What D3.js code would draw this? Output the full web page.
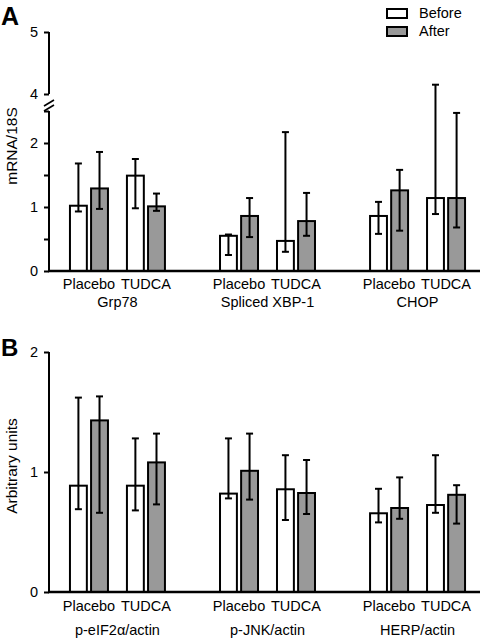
<!DOCTYPE html>
<html>
<head>
<meta charset="utf-8">
<script src="https://cdn.jsdelivr.net/npm/d3@7"></script>
<style>
  html, body { margin: 0; padding: 0; background: #fff; }
  svg { display: block; font-family: "Liberation Sans", Arial, sans-serif; }
</style>
</head>
<body>
<svg id="chart" width="480" height="640"></svg>
<script>
// ---------- data ----------
const treatments = ["Placebo", "TUDCA"];
const times = ["Before", "After"];

// Panel A (mRNA/18S); bar order: Placebo-Before, Placebo-After, TUDCA-Before, TUDCA-After
const groupsA = ["Grp78", "Spliced XBP-1", "CHOP"];
const meanA  = [[1.02, 1.29, 1.49, 1.01], [0.55, 0.86, 0.47, 0.78], [0.86, 1.26, 1.14, 1.14]];
const upperA = [[1.68, 1.86, 1.75, 1.21], [0.57, 1.14, 2.17, 1.22], [1.08, 1.58, 4.15, 2.47]];
const lowerA = [[0.93, 0.97, 0.98, 0.94], [0.25, 0.53, 0.30, 0.55], [0.58, 0.63, 0.89, 0.68]];
const ticksA = [0, 0.5, 1, 1.5, 2, 2.5, 4, 5];
const tickLabelsA = ["0", "", "1", "", "2", "", "4", "5"];

// Panel B (Arbitrary units)
const groupsB = ["p-eIF2α/actin", "p-JNK/actin", "HERP/actin"];
const meanB  = [[0.886, 1.43, 0.886, 1.08], [0.82, 1.01, 0.856, 0.825], [0.656, 0.70, 0.725, 0.81]];
const upperB = [[1.62, 1.63, 1.28, 1.32], [1.28, 1.32, 1.14, 1.10], [0.86, 0.955, 1.14, 0.89]];
const lowerB = [[0.69, 0.66, 0.68, 0.73], [0.78, 0.77, 0.60, 0.65], [0.58, 0.61, 0.66, 0.57]];
const ticksB = [0, 1, 2];
const tickLabelsB = ["0", "1", "2"];

const fills = { Before: "#ffffff", After: "#999999" };

// ---------- layout ----------
const svg = d3.select("#chart");
const axisX = 49, rightX = 480;

function buildRows(groups, mean, upper, lower) {
  const rows = [];
  groups.forEach((g, gi) => {
    treatments.forEach((t, ti) => {
      times.forEach((tm, mi) => {
        const k = ti * 2 + mi;
        rows.push({ group: g, treatment: t, time: tm, value: mean[gi][k], hi: upper[gi][k], lo: lower[gi][k] });
      });
    });
  });
  return rows;
}

function panel(opts) {
  const { groups, rows, y, tickVals, tickLabels, label1Y, label2Y, title, titleY, segments, breakAt } = opts;
  const g = svg.append("g");

  const x0 = d3.scaleBand().domain(groups).range([42.5, 492.5]).paddingInner(0.367).paddingOuter(0.183);
  const x1 = d3.scaleBand().domain(treatments).range([0, x0.bandwidth()]).paddingInner(0.333);
  const x2 = d3.scaleBand().domain(times).range([0, x1.bandwidth()]).paddingInner(0.2);
  const xPos = d => x0(d.group) + x1(d.treatment) + x2(d.time);

  // bars
  g.selectAll("rect.bar").data(rows).join("rect")
    .attr("class", "bar")
    .attr("x", d => xPos(d))
    .attr("width", x2.bandwidth())
    .attr("y", d => y(d.value))
    .attr("height", d => y(0) - y(d.value))
    .attr("fill", d => fills[d.time])
    .attr("stroke", "#000")
    .attr("stroke-width", 2);

  // error bars
  const eb = g.selectAll("g.err").data(rows).join("g").attr("class", "err")
    .attr("stroke", "#000").attr("stroke-width", 2);
  eb.append("line")
    .attr("x1", d => xPos(d) + x2.bandwidth() / 2).attr("x2", d => xPos(d) + x2.bandwidth() / 2)
    .attr("y1", d => y(d.lo)).attr("y2", d => y(d.hi));
  [ "hi", "lo" ].forEach(key => {
    eb.append("line")
      .attr("x1", d => xPos(d) + x2.bandwidth() / 2 - 3.5).attr("x2", d => xPos(d) + x2.bandwidth() / 2 + 3.5)
      .attr("y1", d => y(d[key])).attr("y2", d => y(d[key]));
  });

  // y axis
  const ax = d3.axisLeft(y).tickValues(tickVals).tickSize(5).tickPadding(6)
    .tickFormat((d, i) => tickLabels[i]);
  const axG = g.append("g").attr("transform", `translate(${axisX},0)`).call(ax);
  axG.select(".domain").remove();
  axG.selectAll(".tick line").attr("stroke-width", 2);
  axG.selectAll(".tick text").attr("font-size", 14.5).attr("font-family", "Liberation Sans, Arial, sans-serif").attr("fill", "#000");
  segments.forEach(s => {
    g.append("line").attr("x1", axisX).attr("x2", axisX)
      .attr("y1", y(s[0])).attr("y2", y(s[1]))
      .attr("stroke", "#000").attr("stroke-width", 2);
  });
  if (breakAt !== undefined) {
    const by = breakAt;
    [0, 5].forEach(off => {
      g.append("line")
        .attr("x1", axisX - 5).attr("y1", by + 3 + off)
        .attr("x2", axisX + 5).attr("y2", by - 3 + off)
        .attr("stroke", "#000").attr("stroke-width", 1.6);
    });
  }

  // x axis line
  g.append("line").attr("x1", axisX - 1).attr("x2", rightX)
    .attr("y1", y(0)).attr("y2", y(0))
    .attr("stroke", "#000").attr("stroke-width", 2.5);

  // treatment labels
  groups.forEach(grp => {
    treatments.forEach(t => {
      g.append("text")
        .attr("x", x0(grp) + x1(t) + x1.bandwidth() / 2)
        .attr("y", label1Y)
        .attr("text-anchor", "middle")
        .attr("font-size", 14.5)
        .text(t);
    });
    g.append("text")
      .attr("x", x0(grp) + x0.bandwidth() / 2)
      .attr("y", label2Y)
      .attr("text-anchor", "middle")
      .attr("font-size", 14.5)
      .text(grp);
  });

  // y title
  g.append("text")
    .attr("transform", `translate(17,${titleY}) rotate(-90)`)
    .attr("text-anchor", "middle")
    .attr("font-size", 15.5)
    .text(title);
}

// Panel A scale (broken axis: 0–2.5 and 4–5)
const yA = d3.scaleLinear().domain([0, 2.5, 4, 5]).range([271, 111, 94, 32]);
panel({
  groups: groupsA,
  rows: buildRows(groupsA, meanA, upperA, lowerA),
  y: yA, tickVals: ticksA, tickLabels: tickLabelsA,
  label1Y: 289, label2Y: 307,
  title: "mRNA/18S", titleY: 146,
  segments: [[0, 2.5], [4, 5]],
  breakAt: 103
});

// Panel B scale
const yB = d3.scaleLinear().domain([0, 2]).range([592, 352]);
panel({
  groups: groupsB,
  rows: buildRows(groupsB, meanB, upperB, lowerB),
  y: yB, tickVals: ticksB, tickLabels: tickLabelsB,
  label1Y: 611, label2Y: 635,
  title: "Arbitrary units", titleY: 466,
  segments: [[0, 2]]
});

// panel letters
svg.append("text").attr("x", 1).attr("y", 25).attr("font-size", 25).attr("font-weight", "bold").text("A");
svg.append("text").attr("x", 1).attr("y", 356).attr("font-size", 24).attr("font-weight", "bold").text("B");

// legend
const legend = svg.append("g");
times.forEach((t, i) => {
  legend.append("rect")
    .attr("x", 387).attr("y", 9 + i * 18)
    .attr("width", 20).attr("height", 9)
    .attr("fill", fills[t]).attr("stroke", "#000").attr("stroke-width", 2);
  legend.append("text")
    .attr("x", 419).attr("y", 18 + i * 18)
    .attr("font-size", 14.5)
    .text(t);
});
</script>
</body>
</html>
